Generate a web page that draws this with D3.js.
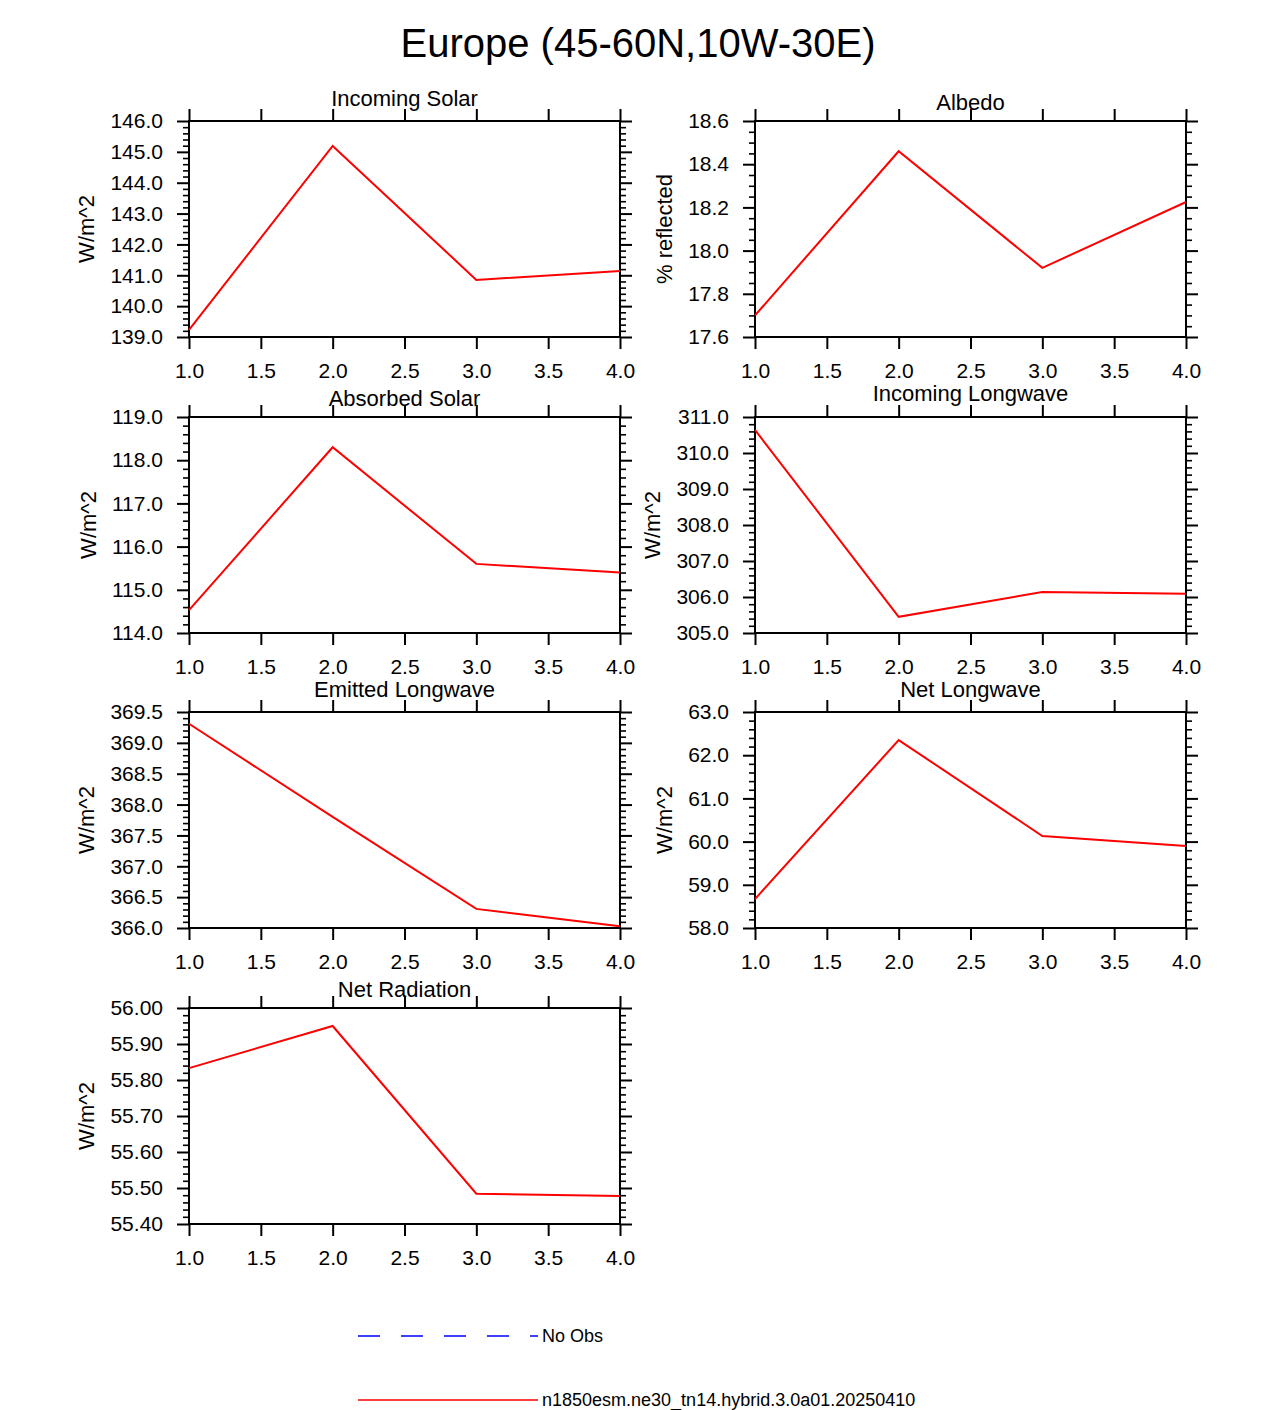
<!DOCTYPE html>
<html>
<head>
<meta charset="utf-8">
<script src="https://cdn.jsdelivr.net/npm/d3@7"></script>
<style>
  body { margin: 0; background: #fff; }
  text { font-family: "Liberation Sans", Arial, Helvetica, sans-serif; fill: #000; }
</style>
</head>
<body>
<div id="chart"></div>
<script>
// data
const mainTitle = "Europe (45-60N,10W-30E)";
const xValues = [1, 2, 3, 4];
const xTicks = [1.0, 1.5, 2.0, 2.5, 3.0, 3.5, 4.0];

const panelTitles = ["Incoming Solar", "Albedo", "Absorbed Solar", "Incoming Longwave",
  "Emitted Longwave", "Net Longwave", "Net Radiation"];
const yLabels = ["W/m^2", "% reflected", "W/m^2", "W/m^2", "W/m^2", "W/m^2", "W/m^2"];

const incomingSolar = [139.23, 145.19, 140.85, 141.14];
const albedo = [17.70, 18.46, 17.92, 18.225];
const absorbedSolar = [114.53, 118.30, 115.60, 115.40];
const incomingLongwave = [310.64, 305.45, 306.14, 306.09];
const emittedLongwave = [369.31, 367.80, 366.31, 366.03];
const netLongwave = [58.67, 62.35, 60.13, 59.90];
const netRadiation = [55.833, 55.95, 55.484, 55.478];
const series = [incomingSolar, albedo, absorbedSolar, incomingLongwave,
  emittedLongwave, netLongwave, netRadiation];

// y axis ranges and tick spacing
const yMin = [139.0, 17.6, 114.0, 305.0, 366.0, 58.0, 55.40];
const yMax = [146.0, 18.6, 119.0, 311.0, 369.5, 63.0, 56.00];
const yMajor = [1.0, 0.2, 1.0, 1.0, 0.5, 1.0, 0.1];
const yMinor = [0.2, 0.05, 0.2, 0.2, 0.1, 0.2, 0.02];
const yDecimals = [1, 1, 1, 1, 1, 1, 2];

const legendLabels = ["No Obs", "n1850esm.ne30_tn14.hybrid.3.0a01.20250410"];
const legendColors = ["blue", "red"];

// layout
const W = 1275, H = 1410;
const colX = [189, 755];
const rowY = [121, 417, 712, 1008];
const pw = 431, ph = 216;
const titleOffset = [15, 11, 11, 16, 15, 15, 11];

const svg = d3.select("#chart").append("svg")
  .attr("width", W)
  .attr("height", H);

svg.append("text")
  .attr("x", 638)
  .attr("y", 57)
  .attr("text-anchor", "middle")
  .style("font-size", "40px")
  .text(mainTitle);

function steps(lo, hi, step) {
  const n = Math.round((hi - lo) / step);
  return d3.range(n + 1).map(k => +(lo + k * step).toFixed(6));
}

series.forEach(function (values, i) {
  const g = svg.append("g")
    .attr("transform", `translate(${colX[i % 2]}, ${rowY[Math.floor(i / 2)]})`);

  const x = d3.scaleLinear().domain([1, 4]).range([0, pw]);
  const y = d3.scaleLinear().domain([yMin[i], yMax[i]]).range([ph, 0]);

  const majors = steps(yMin[i], yMax[i], yMajor[i]);
  const minors = steps(yMin[i], yMax[i], yMinor[i])
    .filter(v => !majors.some(m => Math.abs(m - v) < 1e-6));
  const fmt = d3.format(`.${yDecimals[i]}f`);

  // axes
  g.append("g")
    .attr("transform", `translate(0,${ph})`)
    .call(d3.axisBottom(x).tickValues(xTicks).tickSize(12).tickPadding(14)
      .tickFormat(d3.format(".1f")));
  g.append("g")
    .call(d3.axisTop(x).tickValues(xTicks).tickSize(12).tickFormat(""));

  const left = g.append("g")
    .call(d3.axisLeft(y).tickValues(majors).tickSize(12).tickPadding(14).tickFormat(fmt));
  g.append("g")
    .call(d3.axisLeft(y).tickValues(minors).tickSize(6).tickFormat(""))
    .attr("class", "minor");
  g.append("g")
    .attr("transform", `translate(${pw},0)`)
    .call(d3.axisRight(y).tickValues(majors).tickSize(12).tickFormat(""));
  g.append("g")
    .attr("transform", `translate(${pw},0)`)
    .call(d3.axisRight(y).tickValues(minors).tickSize(6).tickFormat(""))
    .attr("class", "minor");

  g.selectAll(".domain").remove();
  g.selectAll(".tick line").attr("stroke", "#000").attr("stroke-width", 2);
  g.selectAll(".minor .tick line").attr("stroke-width", 1.6);
  g.selectAll(".tick text").style("font-size", "21px").attr("fill", "#000")
    .style("font-family", "'Liberation Sans', Arial, Helvetica, sans-serif");

  g.append("rect")
    .attr("width", pw)
    .attr("height", ph)
    .attr("fill", "none")
    .attr("stroke", "#000")
    .attr("stroke-width", 2);

  // data line
  g.append("path")
    .datum(values)
    .attr("fill", "none")
    .attr("stroke", "red")
    .attr("stroke-width", 2)
    .attr("d", d3.line()
      .x((d, k) => x(xValues[k]))
      .y(d => y(d)));

  // titles
  g.append("text")
    .attr("x", pw / 2)
    .attr("y", -titleOffset[i])
    .attr("text-anchor", "middle")
    .style("font-size", "22px")
    .text(panelTitles[i]);

  const lb = left.node().getBBox();
  g.append("text")
    .attr("transform", `translate(${lb.x - 16}, ${ph / 2}) rotate(-90)`)
    .attr("text-anchor", "middle")
    .style("font-size", "22px")
    .text(yLabels[i]);
});

// legend
const legend = svg.append("g");
legendLabels.forEach(function (label, i) {
  const ly = 1336 + i * 64;
  legend.append("line")
    .attr("x1", 358)
    .attr("x2", 538)
    .attr("y1", ly)
    .attr("y2", ly)
    .attr("stroke", legendColors[i])
    .attr("stroke-width", 1.5)
    .attr("stroke-dasharray", i === 0 ? "22,21" : null);
  legend.append("text")
    .attr("x", 542)
    .attr("y", ly + 6)
    .style("font-size", "18px")
    .text(label);
});
</script>
</body>
</html>
